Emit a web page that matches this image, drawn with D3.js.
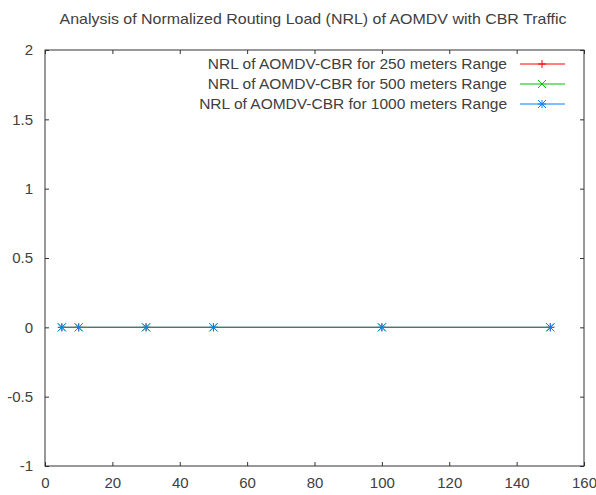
<!DOCTYPE html>
<html lang="en">
<head>
  <meta charset="UTF-8">
  <title>NRL of AOMDV</title>
  <style>
    body { margin: 0; background: #fff; }
    svg { font-family: "Liberation Sans", Arial, sans-serif; }
  </style>
</head>
<body>
<div id="chart"></div>
<script src="https://cdn.jsdelivr.net/npm/d3@7/dist/d3.min.js"></script>
<script>
  const pauseTimes = [5, 10, 30, 50, 100, 150];
  const nrl250 = [0, 0, 0, 0, 0, 0];
  const nrl500 = [0, 0, 0, 0, 0, 0];
  const nrl1000 = [0, 0, 0, 0, 0, 0];
  const seriesNames = [
    "NRL of AOMDV-CBR for 250 meters Range",
    "NRL of AOMDV-CBR for 500 meters Range",
    "NRL of AOMDV-CBR for 1000 meters Range"
  ];
  const xTicks = [0, 20, 40, 60, 80, 100, 120, 140, 160];
  const yTicks = [-1, -0.5, 0, 0.5, 1, 1.5, 2];

  const W = 596, H = 495;
  const margin = {top: 50, right: 12, bottom: 29, left: 45};
  const width = W - margin.left - margin.right,
    height = H - margin.top - margin.bottom;
  const textColor = "#404040";
  const colors = ["#ff0000", "#00c000", "#0080ff"];
  const markers = ["plus", "cross", "star"];

  const svg = d3.select("#chart").append("svg")
    .attr("width", W)
    .attr("height", H);

  svg.append("text")
    .attr("x", 313)
    .attr("y", 24)
    .attr("text-anchor", "middle")
    .attr("font-size", 15)
    .attr("textLength", 507)
    .attr("lengthAdjust", "spacingAndGlyphs")
    .attr("fill", textColor)
    .text("Analysis of Normalized Routing Load (NRL) of AOMDV with CBR Traffic");

  const g = svg.append("g")
    .attr("transform", "translate(" + margin.left + "," + margin.top + ")");

  const x = d3.scaleLinear().domain([0, 160]).range([0, width]);
  const y = d3.scaleLinear().domain([-1, 2]).range([height, 0]);

  // axes with inward ticks, mirrored like gnuplot
  const tickStyle = sel => {
    sel.select(".domain").remove();
    sel.selectAll("line").attr("stroke", "#333");
    sel.selectAll("text").attr("fill", textColor).attr("font-size", 15)
      .attr("font-family", "Liberation Sans, Arial, sans-serif");
  };
  g.append("g").attr("transform", "translate(0," + height + ")")
    .call(d3.axisBottom(x).tickValues(xTicks).tickSize(-4).tickPadding(11).tickFormat(d => String(d)))
    .call(tickStyle);
  g.append("g")
    .call(d3.axisTop(x).tickValues(xTicks).tickSize(-4).tickFormat(""))
    .call(tickStyle);
  g.append("g")
    .call(d3.axisLeft(y).tickValues(yTicks).tickSize(-4).tickPadding(12).tickFormat(d => String(d)))
    .call(tickStyle);
  g.append("g").attr("transform", "translate(" + width + ",0)")
    .call(d3.axisRight(y).tickValues(yTicks).tickSize(-4).tickFormat(""))
    .call(tickStyle);

  g.append("rect")
    .attr("width", width)
    .attr("height", height)
    .attr("fill", "none")
    .attr("stroke", "#333")
    .attr("stroke-width", 1);

  const markerPath = (type, s) => {
    if (type === "plus") return `M${-s},0H${s}M0,${-s}V${s}`;
    if (type === "cross") return `M${-s},${-s}L${s},${s}M${-s},${s}L${s},${-s}`;
    return `M${-s},0H${s}M0,${-s}V${s}M${-s},${-s}L${s},${s}M${-s},${s}L${s},${-s}`;
  };

  const allSeries = [nrl250, nrl500, nrl1000];
  const line = d3.line()
    .x((d, i) => x(pauseTimes[i]))
    .y(d => y(d));

  allSeries.forEach((vals, k) => {
    g.append("path")
      .datum(vals)
      .attr("fill", "none")
      .attr("stroke", colors[k])
      .attr("stroke-width", 1)
      .attr("d", line);
    g.selectAll(".m" + k)
      .data(vals)
      .enter()
      .append("path")
      .attr("class", "m" + k)
      .attr("transform", (d, i) => "translate(" + x(pauseTimes[i]) + "," + y(d) + ")")
      .attr("d", markerPath(markers[k], 4))
      .attr("stroke", colors[k])
      .attr("fill", "none");
  });

  // legend
  const legend = svg.append("g");
  seriesNames.forEach((name, k) => {
    const ly = 64 + k * 20;
    legend.append("text")
      .attr("x", 507)
      .attr("y", ly + 5)
      .attr("text-anchor", "end")
      .attr("font-size", 15.5)
      .attr("fill", textColor)
      .text(name);
    legend.append("line")
      .attr("x1", 520).attr("x2", 565)
      .attr("y1", ly).attr("y2", ly)
      .attr("stroke", colors[k]);
    legend.append("path")
      .attr("transform", "translate(542," + ly + ")")
      .attr("d", markerPath(markers[k], 4))
      .attr("stroke", colors[k])
      .attr("fill", "none");
  });
</script>
</body>
</html>
